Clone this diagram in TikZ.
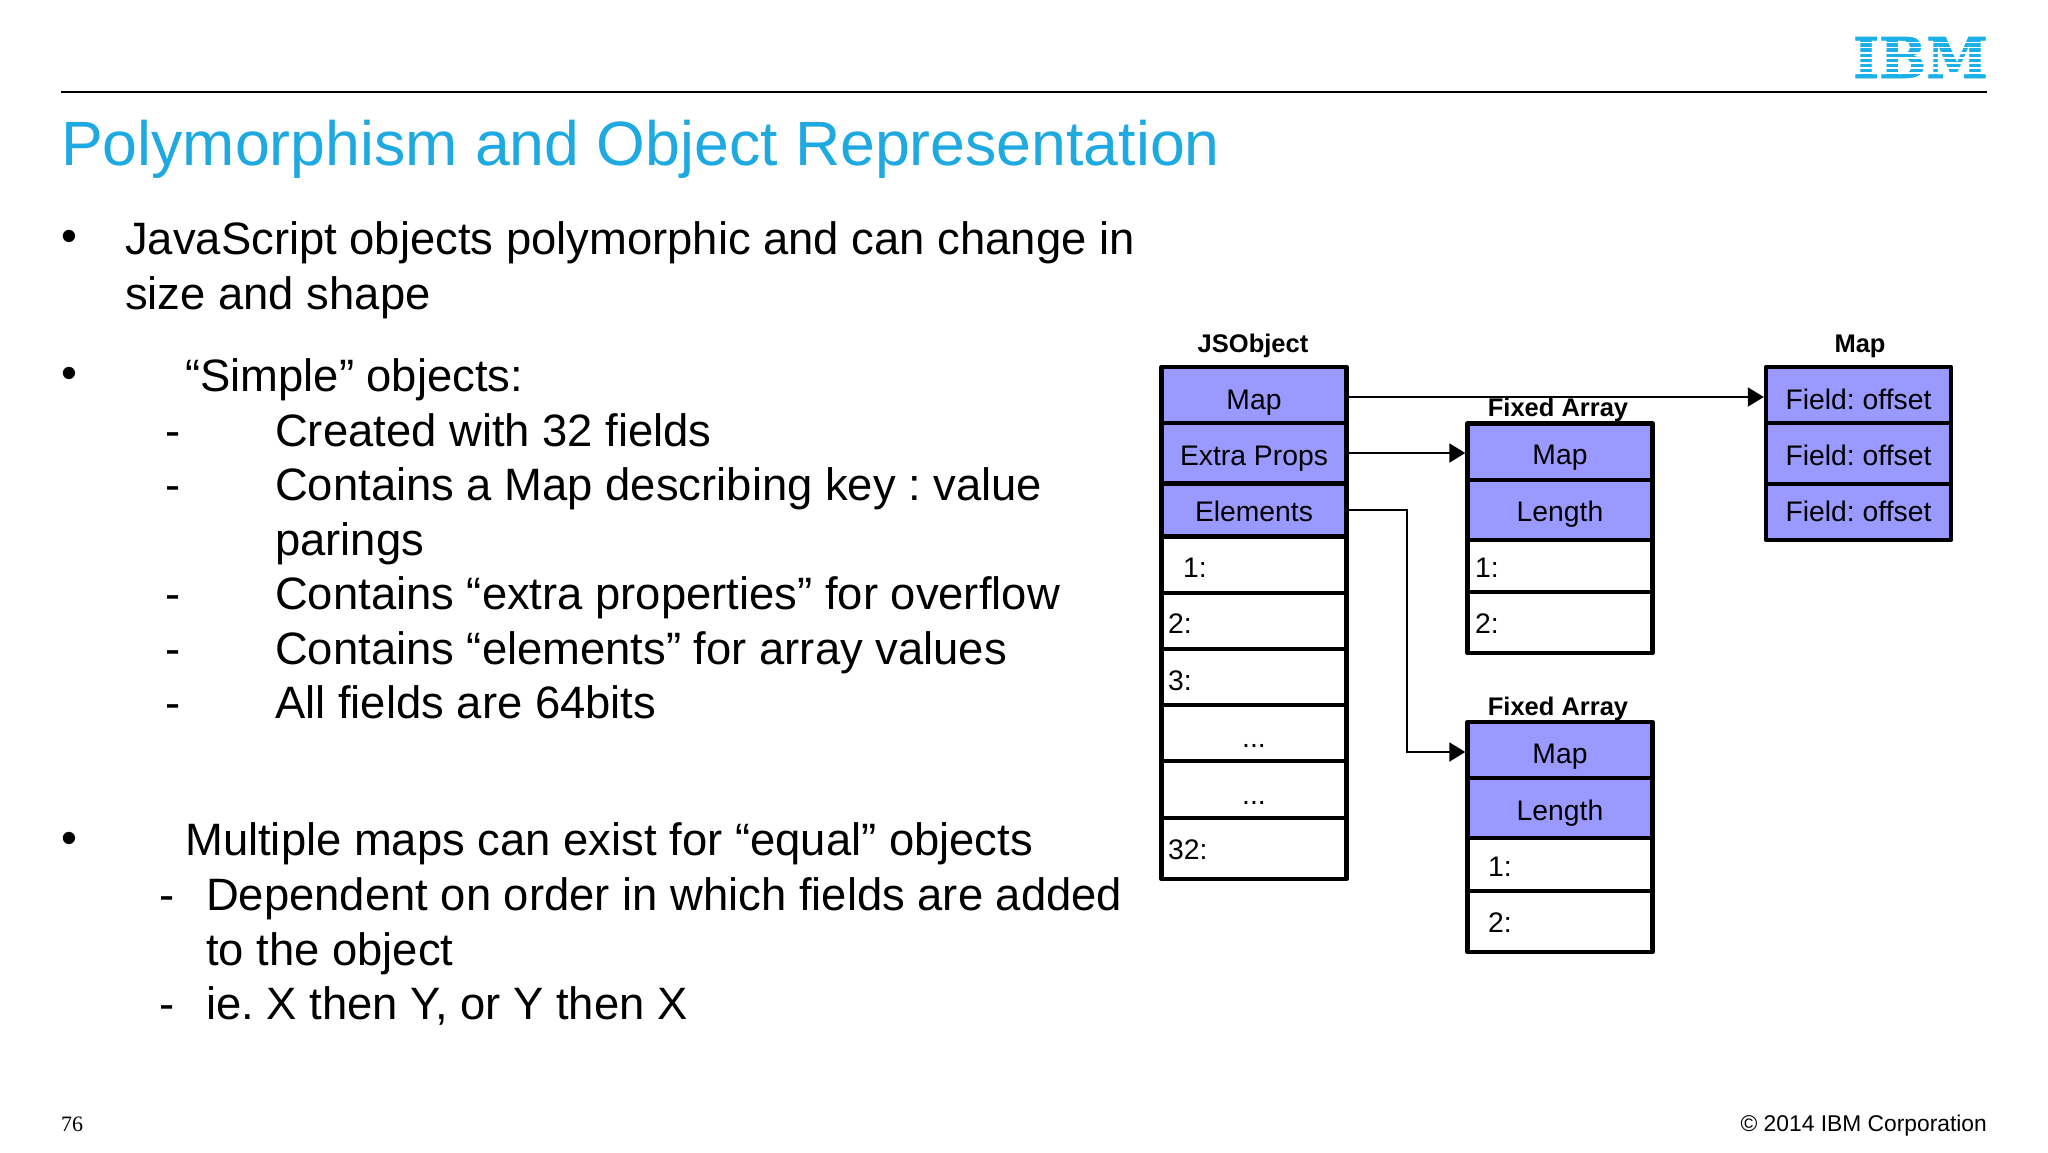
\documentclass[tikz,border=0pt]{standalone}
\usepackage{fontspec}
\setmainfont{Liberation Sans}
\newfontfamily\pagefont{Liberation Serif}
\newfontfamily\logofont[FakeBold=1.2]{DejaVu Serif Bold}
\usetikzlibrary{arrows.meta}
\definecolor{ibmblue}{HTML}{1FA9E1}
\definecolor{logoblue}{HTML}{1BB0E8}
\definecolor{cellblue}{HTML}{9999FF}
\newcommand{\fs}[1]{\fontsize{#1}{#1}\selectfont}
\frenchspacing
\tikzset{
  body/.style={anchor=base west,inner sep=0pt,font=\fs{45.4}},
  cellbase/.style={draw=black,line width=4.4pt,minimum width=184pt,inner sep=0pt,font=\fs{28.3},line join=round,text height=24pt,text depth=0pt},
  bluecell/.style={cellbase,fill=cellblue},
  whitecell/.style={cellbase,fill=white},
  celltext/.style={anchor=base west,inner sep=0pt,font=\fs{28.3}},
  head/.style={anchor=base,inner sep=0pt,font=\fs{25.5}\bfseries},
  link/.style={draw=black,line width=2pt,-{Triangle[length=16pt,width=19pt]}},
}
\begin{document}
\begin{tikzpicture}[x=1pt,y=-1pt]
\useasboundingbox (0,0) rectangle (2048,1152);
\fill[white] (0,0) rectangle (2048,1152);
% header
\coordinate (ruleL) at (61,92);
\coordinate (ruleR) at (1987,92);
\draw[line width=2.2pt,black] (ruleL) -- (ruleR);
\node[anchor=base west,inner sep=0pt,text=ibmblue,font=\fs{62.6}] (title) at (61,165.5) {Polymorphism and Object Representation};
% logo
\node[anchor=center,inner sep=0pt,text=logoblue,font=\logofont\fs{58}] (logo) at (1920.5,57.5) {\resizebox{135pt}{41pt}{IBM}};
\foreach \yy in {41.6,46.7,51.8,56.9,62,67.1,72.2}{
  \fill[white] (1850,\yy) rectangle (1992,\yy+1.7);
}
% left text
\foreach \nm/\xx/\yy/\tx in {
 b1/61/251/•, b2/61/388/•, b3/61/853/•}{
 \node[body] (\nm) at (\xx,\yy) {\tx};
}
\node[body] (t1) at (125,254) {JavaScript objects polymorphic and can change in};
\node[body] (t2) at (125,309.5) {size and shape};
\node[body] (t3) at (185,391.5) {“Simple” objects:};
\node[body] (d1) at (165,446) {-};
\node[body] (t4) at (275,446) {Created with 32 fields};
\node[body] (d2) at (165,500) {-};
\node[body] (t5) at (275,500) {Contains a Map describing key : value};
\node[body] (t6) at (275,555) {parings};
\node[body] (d3) at (165,609) {-};
\node[body] (t7) at (275,609) {Contains “extra properties” for overflow};
\node[body] (d4) at (165,664) {-};
\node[body] (t8) at (275,664) {Contains “elements” for array values};
\node[body] (d5) at (165,718.5) {-};
\node[body] (t9) at (275,718.5) {All fields are 64bits};
\node[body] (t10) at (185,855.5) {Multiple maps can exist for “equal” objects};
\node[body] (d6) at (159,910) {-};
\node[body] (t11) at (206,910) {Dependent on order in which fields are added};
\node[body] (t12) at (206,965) {to the object};
\node[body] (d7) at (159,1019) {-};
\node[body] (t13) at (206,1019) {ie. X then Y, or Y then X};
% footer
\node[anchor=base west,inner sep=0pt,font=\pagefont\fs{22}] (pg) at (61,1131) {76};
\node[anchor=base east,inner sep=0pt,font=\fs{22.8}] (copy) at (1987,1131) {© 2014 IBM Corporation};
% JSObject
\node[head] (hj) at (1253,352) {JSObject};
\node[bluecell,minimum width=185pt,minimum height=56pt,text height=29pt] (jm) at (1254,395) {Map};
\node[bluecell,minimum width=185pt,minimum height=60pt] (jx) at (1254,453) {Extra Props};
\node[bluecell,minimum width=185pt,minimum height=53pt,text height=23pt] (je) at (1254,510) {Elements};
\node[whitecell,minimum width=185pt,minimum height=57pt] (j1) at (1254,565) {};
\node[whitecell,minimum width=185pt,minimum height=56pt] (j2) at (1254,621) {};
\node[whitecell,minimum width=185pt,minimum height=56pt] (j3) at (1254,677) {};
\node[whitecell,minimum width=185pt,minimum height=56pt,text height=29pt] (j4) at (1254,733) {...};
\node[whitecell,minimum width=185pt,minimum height=57pt,text height=29pt] (j5) at (1254,789.5) {...};
\node[whitecell,minimum width=185pt,minimum height=61pt] (j6) at (1254,848.5) {};
\node[celltext] at (1183,577.5) (lj1) {1:};
\node[celltext] at (1168,633.5) (lj2) {2:};
\node[celltext] at (1168,690.5) (lj3) {3:};
\node[celltext] at (1168,859.5) (lj6) {32:};
% Fixed array 1
\node[head] (hf1) at (1558,416) {Fixed Array};
\node[bluecell,minimum width=185pt,minimum height=57pt,text height=25pt] (fm) at (1560,452) {Map};
\node[bluecell,minimum width=185pt,minimum height=60pt,text height=23pt] (fl) at (1560,510) {Length};
\node[whitecell,minimum width=185pt,minimum height=52pt] (f1) at (1560,566) {};
\node[whitecell,minimum width=185pt,minimum height=61pt] (f2) at (1560,622.5) {};
\node[celltext] at (1475,577.5) (lf1) {1:};
\node[celltext] at (1475,633.5) (lf2) {2:};
% Fixed array 2
\node[head] (hf2) at (1558,715) {Fixed Array};
\node[bluecell,minimum width=185pt,minimum height=56pt,text height=26pt] (gm) at (1560,750) {Map};
\node[bluecell,minimum width=185pt,minimum height=60pt] (gl) at (1560,808) {Length};
\node[whitecell,minimum width=185pt,minimum height=53pt] (g1) at (1560,864.5) {};
\node[whitecell,minimum width=185pt,minimum height=61pt] (g2) at (1560,921.5) {};
\node[celltext] at (1488,876) (lg1) {1:};
\node[celltext] at (1488,932) (lg2) {2:};
% Map
\node[head] (hm) at (1860,352) {Map};
\node[bluecell,minimum width=185pt,minimum height=56pt,text height=29pt] (m1) at (1858.5,395) {Field: offset};
\node[bluecell,minimum width=185pt,minimum height=61pt] (m2) at (1858.5,453.5) {Field: offset};
\node[bluecell,minimum width=185pt,minimum height=56pt,text height=19pt] (m3) at (1858.5,512) {Field: offset};
% connectors
\draw[link] ([yshift=-2pt]jm.east) -- ([yshift=-2pt]m1.west);
\draw[link] (jx.east) -- (jx.east -| fm.west);
\coordinate (bend) at (1407,510);
\draw[link] (je.east) -- (bend) |- ([yshift=-2pt]gm.west);
\end{tikzpicture}
\end{document}
